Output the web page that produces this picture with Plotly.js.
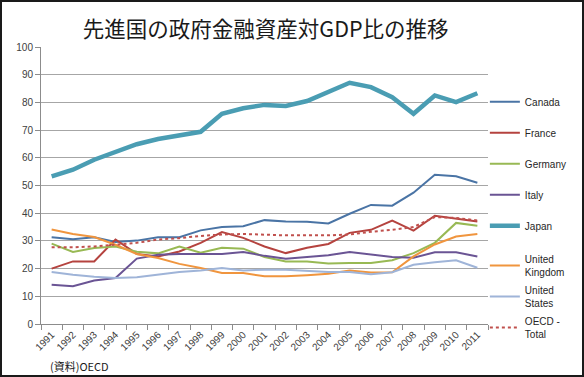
<!DOCTYPE html>
<html>
<head>
<meta charset="utf-8">
<script src="https://cdn.plot.ly/plotly-3.0.1.min.js"></script>
<style>
  html, body { margin: 0; padding: 0; background: #fff; }
  #wrap { position: relative; width: 584px; height: 377px; }
  #chart { width: 584px; height: 377px; }
  #frame { position: absolute; left: 0; top: 0; width: 584px; height: 377px; box-sizing: border-box; border: 2px solid #1a1a1a; pointer-events: none; }
</style>
</head>
<body>
<div id="wrap"><div id="chart"></div><div id="frame"></div></div>
<script>
const years = ["1991","1992","1993","1994","1995","1996","1997","1998","1999","2000","2001","2002","2003","2004","2005","2006","2007","2008","2009","2010","2011"];

const canada  = [31.3, 30.6, 31.3, 29.6, 30.1, 31.3, 31.3, 33.8, 35.0, 35.3, 37.5, 37.0, 36.9, 36.3, 39.8, 43.0, 42.7, 47.4, 53.9, 53.3, 51.0];
const france  = [20.0, 22.6, 22.6, 30.5, 25.3, 24.4, 26.2, 29.3, 33.2, 31.1, 28.0, 25.6, 27.5, 28.9, 32.9, 34.0, 37.3, 33.7, 39.1, 38.1, 37.0];
const germany = [29.0, 26.0, 27.4, 28.0, 26.1, 25.5, 28.0, 25.7, 27.5, 27.2, 24.2, 22.6, 22.6, 21.8, 22.0, 22.0, 23.0, 25.6, 29.3, 36.5, 35.5];
const italy   = [14.2, 13.6, 15.7, 16.6, 23.6, 25.0, 25.3, 25.3, 25.3, 26.0, 24.6, 23.6, 24.1, 24.8, 26.0, 25.2, 24.2, 23.9, 25.9, 25.9, 24.4];
const japan   = [53.3, 55.7, 59.3, 62.3, 64.9, 66.8, 67.9, 69.4, 75.9, 77.9, 79.1, 78.7, 80.5, 83.7, 87.1, 85.5, 81.9, 75.9, 82.5, 80.1, 83.3];
const uk      = [34.1, 32.5, 31.4, 28.6, 25.3, 23.8, 21.7, 20.2, 18.4, 18.4, 17.2, 17.2, 17.6, 18.1, 19.3, 18.6, 18.7, 24.4, 28.7, 31.6, 32.5];
const us      = [18.8, 17.8, 17.1, 16.6, 16.9, 17.8, 18.8, 19.3, 20.2, 19.3, 19.6, 19.6, 19.3, 18.8, 18.8, 18.0, 18.7, 21.4, 22.3, 23.0, 20.3];
const oecd    = [27.7, 27.7, 28.0, 28.6, 29.3, 30.5, 31.0, 31.8, 32.3, 32.5, 32.2, 32.0, 32.0, 32.0, 32.3, 33.3, 34.0, 35.0, 38.6, 38.3, 37.4];

const seriesNames = ["Canada", "France", "Germany", "Italy", "Japan", "United<br>Kingdom", "United<br>States", "OECD -<br>Total"];
const seriesData = [canada, france, germany, italy, japan, uk, us, oecd];
const colors = ["#4a74a5", "#b5433f", "#98b954", "#6a5494", "#4a9db3", "#f0953e", "#9fb4d8", "#c0504d"];
const widths = [2, 2, 2, 2, 4.5, 2, 2, 2];
const dashes = ["solid", "solid", "solid", "solid", "solid", "solid", "solid", "dot"];
const legendOf = ["legend", "legend", "legend", "legend", "legend", "legend2", "legend2", "legend2"];

const traces = seriesData.map((vals, i) => ({
  type: "scatter",
  mode: "lines",
  x: years,
  y: vals,
  name: seriesNames[i],
  legendgroup: "g" + i,
  legend: legendOf[i],
  line: { color: colors[i], width: widths[i], dash: dashes[i] },
  hoverinfo: "skip"
}));

const tickFont = { family: "Liberation Sans, Arial, sans-serif", size: 10, color: "#404040" };

const layout = {
  width: 584,
  height: 377,
  margin: { l: 41, r: 81, t: 47, b: 53, pad: 0 },
  paper_bgcolor: "#ffffff",
  plot_bgcolor: "#ffffff",
  title: {
    text: "先進国の政府金融資産対GDP比の推移",
    font: { family: "Noto Sans CJK JP, sans-serif", size: 21.5, color: "#1a1a1a" },
    xref: "container", x: 0.455, xanchor: "center",
    yref: "container", y: 0.922, yanchor: "middle"
  },
  xaxis: {
    type: "category",
    range: [-0.5, 20.5],
    tickangle: -45,
    tickfont: tickFont,
    showgrid: false,
    showline: true,
    linecolor: "#8c8c8c",
    linewidth: 1,
    ticks: "outside",
    tickson: "boundaries",
    ticklen: 5,
    tickcolor: "#8c8c8c",
    automargin: false,
    fixedrange: true
  },
  yaxis: {
    range: [0, 100],
    dtick: 10,
    tickfont: tickFont,
    showgrid: true,
    gridcolor: "#a6a6a6",
    gridwidth: 1,
    zeroline: false,
    showline: true,
    linecolor: "#8c8c8c",
    ticks: "outside",
    ticklen: 5,
    tickcolor: "#8c8c8c",
    automargin: false,
    fixedrange: true
  },
  showlegend: true,
  legend: {
    x: 0.993, xanchor: "left",
    y: 0.855, yanchor: "top",
    font: { family: "Liberation Sans, Arial, sans-serif", size: 10, color: "#262626" },
    bgcolor: "rgba(0,0,0,0)",
    tracegroupgap: 12,
    traceorder: "grouped"
  },
  legend2: {
    x: 0.993, xanchor: "left",
    y: 0.282, yanchor: "top",
    font: { family: "Liberation Sans, Arial, sans-serif", size: 10, color: "#262626" },
    bgcolor: "rgba(0,0,0,0)",
    tracegroupgap: 2,
    traceorder: "grouped"
  },
  annotations: [{
    text: "(資料)OECD",
    xref: "paper", yref: "paper",
    x: 0.015, y: -0.15,
    xanchor: "left", yanchor: "middle",
    showarrow: false,
    font: { family: "Noto Sans CJK JP, sans-serif", size: 11, color: "#1a1a1a" }
  }]
};

Plotly.newPlot("chart", traces, layout, { staticPlot: true, displayModeBar: false });
</script>
</body>
</html>
